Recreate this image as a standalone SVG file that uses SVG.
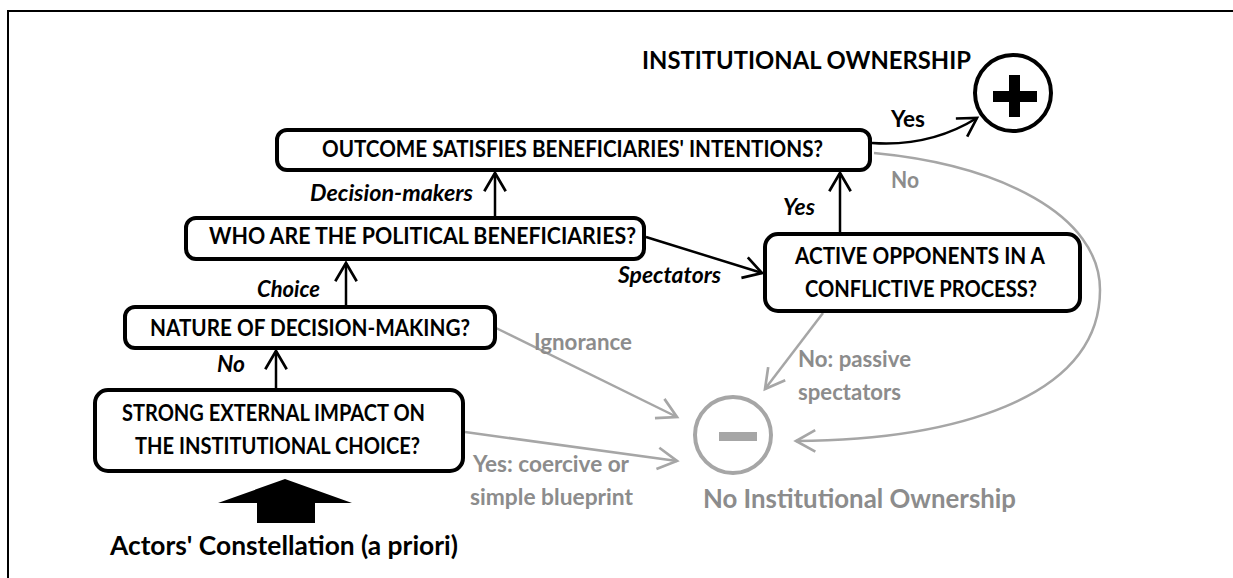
<svg xmlns="http://www.w3.org/2000/svg" width="1233" height="578" viewBox="0 0 1233 578">
<style>
  .box { fill: #ffffff; stroke: #000000; stroke-width: 4; }
  .t { font-family: "Lato", "Liberation Sans", sans-serif; font-weight: bold; font-size: 22.5px; fill: #000000; }
  .it { font-style: italic; }
  .g { fill: #8c8c8c; }
  .big { font-size: 26px; }
  .ttl { font-size: 24px; }
  .blk { fill: none; stroke: #000000; stroke-width: 2.5; }
  .gry { fill: none; stroke: #a6a6a6; stroke-width: 2.5; }
</style>
<defs>
  <marker id="ab" markerUnits="userSpaceOnUse" markerWidth="30" markerHeight="30" viewBox="-22 -14 26 28" refX="0" refY="0" orient="auto">
    <path d="M-17,-10 L0,0 L-17,10" fill="none" stroke="#000000" stroke-width="2.5"/>
  </marker>
  <marker id="ag" markerUnits="userSpaceOnUse" markerWidth="30" markerHeight="30" viewBox="-22 -14 26 28" refX="0" refY="0" orient="auto">
    <path d="M-18,-10 L0,0 L-18,10" fill="none" stroke="#a6a6a6" stroke-width="2.5"/>
  </marker>
</defs>
<rect width="1233" height="578" fill="#ffffff"/>
<g id="frame">
  <path d="M8,578 L8,11 L1233,11" fill="none" stroke="#000000" stroke-width="2"/>
</g>

<g id="connectors">
  <line class="blk" x1="276" y1="390" x2="276" y2="351" marker-end="url(#ab)"/>
  <line class="blk" x1="346" y1="307" x2="346" y2="263" marker-end="url(#ab)"/>
  <line class="blk" x1="495" y1="218" x2="495" y2="173" marker-end="url(#ab)"/>
  <line class="blk" x1="840" y1="233" x2="840" y2="173" marker-end="url(#ab)"/>
  <line class="blk" x1="646" y1="237" x2="762" y2="273" marker-end="url(#ab)"/>
  <path class="blk" d="M872,143 C915,146 948,136 977,118" marker-end="url(#ab)"/>
  <line class="gry" x1="496" y1="328" x2="677" y2="417" marker-end="url(#ag)"/>
  <line class="gry" x1="465" y1="432" x2="677" y2="461" marker-end="url(#ag)"/>
  <line class="gry" x1="823" y1="313" x2="765" y2="389" marker-end="url(#ag)"/>
  <path class="gry" d="M874,153 C1000,165 1100,215 1100,290 C1100,400 950,440 796,441" marker-end="url(#ag)"/>
  <polygon points="285,479 352,503 315,503 315,523 257,523 257,503 218,503" fill="#000000"/>
</g>

<g id="node-outcome">
  <rect class="box" x="277" y="130" width="593" height="40" rx="10"/>
  <text class="t" x="322" y="157" textLength="501" lengthAdjust="spacingAndGlyphs">OUTCOME SATISFIES BENEFICIARIES' INTENTIONS?</text>
</g>
<g id="node-who">
  <rect class="box" x="186" y="218" width="458" height="41" rx="10"/>
  <text class="t" x="209" y="244" textLength="427" lengthAdjust="spacingAndGlyphs">WHO ARE THE POLITICAL BENEFICIARIES?</text>
</g>
<g id="node-active">
  <rect class="box" x="765" y="234" width="315" height="77" rx="13"/>
  <text class="t" x="795" y="264" textLength="250" lengthAdjust="spacingAndGlyphs">ACTIVE OPPONENTS IN A</text>
  <text class="t" x="805" y="297" textLength="232" lengthAdjust="spacingAndGlyphs">CONFLICTIVE PROCESS?</text>
</g>
<g id="node-nature">
  <rect class="box" x="125" y="307" width="370" height="41" rx="10"/>
  <text class="t" x="150" y="336" textLength="320" lengthAdjust="spacingAndGlyphs">NATURE OF DECISION-MAKING?</text>
</g>
<g id="node-strong">
  <rect class="box" x="95" y="390" width="368" height="81" rx="13"/>
  <text class="t" x="122" y="421" textLength="303" lengthAdjust="spacingAndGlyphs">STRONG EXTERNAL IMPACT ON</text>
  <text class="t" x="135" y="454" textLength="285" lengthAdjust="spacingAndGlyphs">THE INSTITUTIONAL CHOICE?</text>
</g>
<g id="node-plus">
  <circle cx="1013" cy="93" r="38" fill="#ffffff" stroke="#000000" stroke-width="4"/>
  <rect x="993" y="91" width="44" height="11" fill="#000000"/>
  <rect x="1009" y="75" width="11" height="42" fill="#000000"/>
  <text class="t ttl" x="642" y="69" textLength="329" lengthAdjust="spacingAndGlyphs">INSTITUTIONAL OWNERSHIP</text>
</g>
<g id="node-minus">
  <circle cx="733" cy="435" r="38" fill="#ffffff" stroke="#a6a6a6" stroke-width="4"/>
  <rect x="719" y="432" width="38" height="9" fill="#a6a6a6"/>
  <text class="t g big" x="703" y="508" textLength="313" lengthAdjust="spacingAndGlyphs">No Institutional Ownership</text>
</g>
<g id="node-actors">
  <text class="t big" x="110" y="555" textLength="348" lengthAdjust="spacingAndGlyphs">Actors' Constellation (a priori)</text>
</g>

<g id="labels">
  <text class="t it" x="310" y="201" textLength="163" lengthAdjust="spacingAndGlyphs">Decision-makers</text>
  <text class="t it" x="783" y="215" textLength="32" lengthAdjust="spacingAndGlyphs">Yes</text>
  <text class="t it" x="618" y="283" textLength="103" lengthAdjust="spacingAndGlyphs">Spectators</text>
  <text class="t it" x="257" y="297" textLength="63" lengthAdjust="spacingAndGlyphs">Choice</text>
  <text class="t it" x="217" y="372" textLength="28" lengthAdjust="spacingAndGlyphs">No</text>
  <text class="t" x="891" y="127" textLength="34" lengthAdjust="spacingAndGlyphs">Yes</text>
  <text class="t g" x="891" y="188" textLength="28" lengthAdjust="spacingAndGlyphs">No</text>
  <text class="t g" x="534" y="350" textLength="98" lengthAdjust="spacingAndGlyphs">Ignorance</text>
  <text class="t g" x="798" y="367" textLength="113" lengthAdjust="spacingAndGlyphs">No: passive</text>
  <text class="t g" x="798" y="400" textLength="103" lengthAdjust="spacingAndGlyphs">spectators</text>
  <text class="t g" x="473" y="472" textLength="156" lengthAdjust="spacingAndGlyphs">Yes: coercive or</text>
  <text class="t g" x="470" y="505" textLength="163" lengthAdjust="spacingAndGlyphs">simple blueprint</text>
</g>
</svg>
